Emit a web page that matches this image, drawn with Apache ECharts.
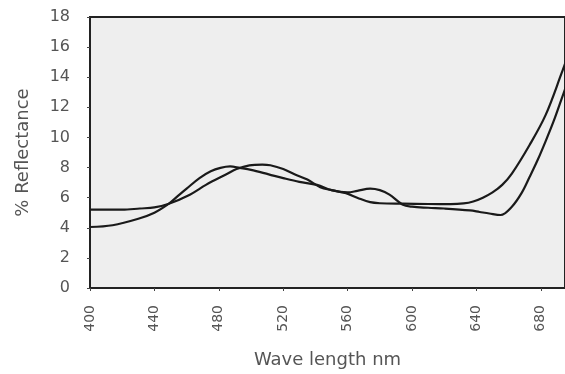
<!DOCTYPE html>
<html>
<head>
<meta charset="utf-8">
<script src="https://cdn.jsdelivr.net/npm/echarts@6/dist/echarts.min.js"></script>
<style>
  html, body { margin: 0; padding: 0; background: #fff; }
  #chart { width: 565px; height: 374px; }
</style>
</head>
<body>
<div id="chart"></div>
<script>
// reflectance curves (wavelength nm -> % reflectance)
const waveA = [400, 414, 430, 440, 449, 455, 460, 468, 475, 481, 487, 493, 500, 511, 520, 530, 541, 550, 560, 566, 574, 580, 586, 594, 600, 610, 620, 636, 642, 648, 655, 662, 668, 673, 678, 683, 688, 693, 696];
const reflA = [4.05, 4.17, 4.6, 5.0, 5.6, 6.15, 6.6, 7.3, 7.75, 7.98, 8.08, 7.98, 7.85, 7.55, 7.3, 7.05, 6.85, 6.5, 6.35, 6.45, 6.6, 6.5, 6.2, 5.55, 5.4, 5.33, 5.28, 5.15, 5.05, 4.95, 4.85, 5.4, 6.3, 7.37, 8.5, 9.76, 11.1, 12.6, 13.5];

const waveB = [400, 420, 431, 440, 449, 462, 472, 485, 491, 499, 507, 512, 520, 527, 535, 543, 550, 559, 567, 574, 580, 594, 610, 624, 632, 638, 644, 650, 656, 662, 673, 683, 693, 696];
const reflB = [5.2, 5.2, 5.28, 5.35, 5.6, 6.2, 6.85, 7.57, 7.9, 8.15, 8.2, 8.15, 7.9, 7.55, 7.2, 6.7, 6.5, 6.3, 5.95, 5.7, 5.63, 5.6, 5.58, 5.57, 5.62, 5.75, 6.0, 6.35, 6.85, 7.6, 9.5, 11.5, 14.3, 15.2];

const xMin = 400, xMax = 695, xStep = 40;
const yMin = 0, yMax = 18, yStep = 2;

const chart = echarts.init(document.getElementById('chart'));

const toPairs = (xs, ys) => xs.map((x, i) => [x, ys[i]]);

const textColor = '#555';
const font = 'DejaVu Sans';

chart.setOption({
  animation: false,
  grid: {
    left: 90,
    top: 17,
    right: -3,
    bottom: 81,
    show: true,
    backgroundColor: '#eeeeee',
    borderColor: '#222',
    borderWidth: 2
  },
  xAxis: {
    type: 'value',
    min: xMin,
    max: xMax,
    interval: xStep,
    name: 'Wave length nm',
    nameLocation: 'middle',
    nameGap: 63,
    nameTextStyle: { fontFamily: font, fontSize: 18, color: textColor },
    axisLine: { show: false },
    axisTick: { show: true, length: 3, lineStyle: { color: '#444' } },
    splitLine: { show: false },
    axisLabel: {
      rotate: 90,
      margin: 17,
      fontFamily: font,
      fontSize: 14,
      color: textColor,
      formatter: v => (v % xStep === 0 ? String(v) : '')
    }
  },
  yAxis: {
    type: 'value',
    min: yMin,
    max: yMax,
    interval: yStep,
    name: '% Reflectance',
    nameLocation: 'middle',
    nameRotate: 90,
    nameGap: 58,
    nameTextStyle: { fontFamily: font, fontSize: 18, color: textColor },
    axisLine: { show: false },
    axisTick: { show: true, length: 3, lineStyle: { color: '#444' } },
    splitLine: { show: false },
    axisLabel: {
      margin: 20,
      fontFamily: font,
      fontSize: 16,
      color: textColor
    }
  },
  series: [
    {
      name: 'A',
      type: 'line',
      data: toPairs(waveA, reflA),
      smooth: 0.35,
      showSymbol: false,
      clip: true,
      lineStyle: { color: '#1a1a1a', width: 2.2 }
    },
    {
      name: 'B',
      type: 'line',
      data: toPairs(waveB, reflB),
      smooth: 0.35,
      showSymbol: false,
      clip: true,
      lineStyle: { color: '#1a1a1a', width: 2.2 }
    }
  ]
});
</script>
</body>
</html>
